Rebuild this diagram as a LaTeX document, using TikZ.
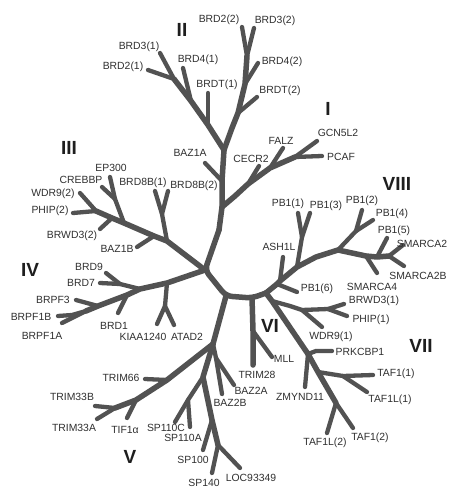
\documentclass[tikz,border=0pt]{standalone}
\usepackage{fontspec}
\setmainfont{Liberation Sans}
\definecolor{brc}{HTML}{525252}
\definecolor{labc}{HTML}{303030}
\definecolor{numc}{HTML}{1E1E1E}
\tikzset{
  br/.style={draw=brc, line width=4.3pt, line cap=round, line join=round},
  tr/.style={br, line width=5.5pt},
  lab/.style={font=\fontsize{10.4}{12}\selectfont, text=labc, inner sep=0pt},
  clade/.style={font=\bfseries\fontsize{19}{22}\selectfont, text=numc, inner sep=0pt},
}
\begin{document}
\begin{tikzpicture}[x=1pt,y=-1pt]
\useasboundingbox (0,0) rectangle (459,488);
\fill[white] (0,0) rectangle (459,488);
% ---------- coordinates ----------
% root
\coordinate (jL) at (205,270); \coordinate (jM) at (226,296);
\coordinate (jR) at (252,298); \coordinate (jR2) at (266,293);
% trunk I/II
\coordinate (t1) at (219,230); \coordinate (jI) at (222,207);
\coordinate (jA) at (222,181); \coordinate (jII) at (224,150);
% clade I
\coordinate (c1) at (235,196); \coordinate (jCE) at (248,184);
\coordinate (jFA) at (270,168); \coordinate (jGP) at (295,157);
\coordinate (eCECR2) at (259,166); \coordinate (eFALZ) at (283,148);
\coordinate (eGCN) at (317,141); \coordinate (ePCAF) at (322,156);
\coordinate (eBAZ1A) at (205,163);
% clade II
\coordinate (jB1T) at (208,125); \coordinate (jB41) at (191,101); \coordinate (jB2) at (174,79);
\coordinate (eBRD31) at (160,53); \coordinate (eBRD21) at (148,70);
\coordinate (eBRD41) at (183,68); \coordinate (eBRDT1) at (208,93);
\coordinate (r1) at (232,128); \coordinate (jBT2) at (238,113);
\coordinate (jB42) at (245,84); \coordinate (jB23) at (247,56);
\coordinate (eBRDT2) at (257,97); \coordinate (eBRD42) at (258,63);
\coordinate (eBRD22) at (242,27); \coordinate (eBRD32) at (254,28);
% clade III
\coordinate (j8B) at (167,241); \coordinate (jBZ) at (154,236);
\coordinate (jEP) at (124,223); \coordinate (jBR) at (112,218); \coordinate (jWP) at (96,211);
\coordinate (j8Bs) at (162,214); \coordinate (eBRD8B1) at (155,191); \coordinate (eBRD8B2) at (168,191);
\coordinate (eBAZ1B) at (137,247);
\coordinate (jEC) at (115,199); \coordinate (eEP300) at (110,177); \coordinate (eCREBBP) at (102,187);
\coordinate (eBRWD32) at (100,229);
\coordinate (eWDR92) at (80,193); \coordinate (ePHIP2) at (73,213);
% clade IV
\coordinate (jKA) at (167,283); \coordinate (jB79) at (140,289); \coordinate (jB1) at (127,295);
\coordinate (jP3) at (98,306); \coordinate (jP1) at (86,311);
\coordinate (jKAs) at (165,306); \coordinate (eKIAA) at (157,324); \coordinate (eATAD2) at (174,325);
\coordinate (jB79s) at (120,284); \coordinate (eBRD9) at (106,273); \coordinate (eBRD7) at (100,283);
\coordinate (eBRD1) at (118,313); \coordinate (eBRPF3) at (76,300);
\coordinate (p1b) at (72,315);
\coordinate (eBRPF1B) at (58,316); \coordinate (eBRPF1A) at (62,323);
% clade V, SP, BAZ2
\coordinate (J5) at (213,344);
\coordinate (jT66) at (167,380); \coordinate (jTIF) at (136,400); \coordinate (jT33) at (115,408);
\coordinate (eTRIM66) at (145,379); \coordinate (eTIF1a) at (127,418);
\coordinate (eTRIM33B) at (95,406); \coordinate (eTRIM33A) at (97,419);
\coordinate (jS110) at (203,377); \coordinate (jS110s) at (188,400);
\coordinate (eSP110C) at (175,422); \coordinate (eSP110A) at (190,427);
\coordinate (jS100) at (212,420); \coordinate (eSP100) at (203,450);
\coordinate (jS140) at (218,445); \coordinate (eSP140) at (212,473); \coordinate (eLOC) at (240,468);
\coordinate (jBAZ2) at (216,358); \coordinate (eBAZ2B) at (222,394); \coordinate (eBAZ2A) at (234,385);
% clade VIII
\coordinate (jP6) at (277,284); \coordinate (jAS) at (280,281); \coordinate (jP13) at (297,267);
\coordinate (v1) at (316,257); \coordinate (jP24) at (338,250); \coordinate (jSM4) at (366,256);
\coordinate (jP5) at (377,257); \coordinate (jSM2) at (389,256);
\coordinate (ePB16) at (297,292); \coordinate (eASH1L) at (283,257);
\coordinate (jP13s) at (302,237); \coordinate (ePB11) at (298,213); \coordinate (ePB13) at (310,213);
\coordinate (jP24s) at (356,231); \coordinate (ePB12) at (362,210); \coordinate (ePB14) at (373,220);
\coordinate (eSMARCA4) at (377,273); \coordinate (ePB15) at (387,238);
\coordinate (eSMARCA2) at (403,245); \coordinate (eSMARCA2B) at (404,266);
% clade VII
\coordinate (jBW) at (272,301); \coordinate (w1) at (290,306); \coordinate (jW9) at (302,310);
\coordinate (jBP) at (328,309);
\coordinate (eBRWD31) at (344,304); \coordinate (ePHIP1) at (347,316); \coordinate (eWDR91) at (322,327);
\coordinate (jPR) at (308,354); \coordinate (pr1) at (316,351); \coordinate (ePRK) at (332,351);
\coordinate (eZMY) at (305,387);
\coordinate (jTA) at (318,372); \coordinate (jTAs) at (343,376);
\coordinate (eTAF11) at (373,375); \coordinate (eTAF1L1) at (367,392);
\coordinate (jTB) at (336,403); \coordinate (eTAF1L2) at (327,433); \coordinate (eTAF12) at (353,428);
% clade VI
\coordinate (jML) at (253,331); \coordinate (eTRIM28) at (253,365); \coordinate (eMLL) at (272,357);

% ---------- branches ----------
% root
\draw[tr, rounded corners=6pt] (t1) -- (jL) -- (jM) -- (jR) -- (jR2);
\draw[tr] (jII) -- (jA) -- (jI) -- (t1);
% I
\draw[tr] (jI) -- (c1) -- (jCE) -- (jFA) -- (jGP);
\draw[br] (jGP) -- (eGCN);
\draw[br] (jGP) -- (ePCAF);
\draw[br] (jCE) -- (eCECR2);
\draw[br] (jFA) -- (eFALZ);
\draw[br] (jA) -- (eBAZ1A);
% II
\draw[tr] (jII) -- (jB1T) -- (jB41) -- (jB2);
\draw[br] (jB2) -- (eBRD31);
\draw[br] (jB2) -- (eBRD21);
\draw[br] (jB41) -- (eBRD41);
\draw[br] (jB1T) -- (eBRDT1);
\draw[tr] (jII) -- (r1) -- (jBT2) -- (jB42) -- (jB23);
\draw[br] (jB23) -- (eBRD22);
\draw[br] (jB23) -- (eBRD32);
\draw[br] (jBT2) -- (eBRDT2);
\draw[br] (jB42) -- (eBRD42);
% III
\draw[tr] (jL) -- (j8B) -- (jBZ) -- (jEP) -- (jBR) -- (jWP);
\draw[br] (j8B) -- (j8Bs) -- (eBRD8B1);
\draw[br] (j8Bs) -- (eBRD8B2);
\draw[br] (jBZ) -- (eBAZ1B);
\draw[br] (jEP) -- (jEC) -- (eEP300);
\draw[br] (jEC) -- (eCREBBP);
\draw[br] (jBR) -- (eBRWD32);
\draw[br] (jWP) -- (eWDR92);
\draw[br] (jWP) -- (ePHIP2);
% IV
\draw[tr] (jL) -- (jKA) -- (jB79) -- (jB1) -- (jP3) -- (jP1);
\draw[br] (jP1) -- (eBRPF1A);
\draw[br] (jP1) -- (p1b) -- (eBRPF1B);
\draw[br] (jP3) -- (eBRPF3);
\draw[br] (jB1) -- (eBRD1);
\draw[br] (jB79) -- (jB79s) -- (eBRD9);
\draw[br] (jB79s) -- (eBRD7);
\draw[br] (jKA) -- (jKAs) -- (eKIAA);
\draw[br] (jKAs) -- (eATAD2);
% V / SP / BAZ2
\draw[tr] (jM) -- (J5);
\draw[tr] (J5) -- (jT66) -- (jTIF) -- (jT33);
\draw[br] (jT66) -- (eTRIM66);
\draw[br] (jTIF) -- (eTIF1a);
\draw[br] (jT33) -- (eTRIM33B);
\draw[br] (jT33) -- (eTRIM33A);
\draw[tr] (J5) -- (jS110) -- (jS100) -- (jS140);
\draw[br] (jS110) -- (jS110s) -- (eSP110C);
\draw[br] (jS110s) -- (eSP110A);
\draw[br] (jS100) -- (eSP100);
\draw[br] (jS140) -- (eSP140);
\draw[br] (jS140) -- (eLOC);
\draw[br] (J5) -- (jBAZ2) -- (eBAZ2B);
\draw[br] (jBAZ2) -- (eBAZ2A);
% VIII
\draw[tr] (jR2) -- (jP6) -- (jAS) -- (jP13) -- (v1) -- (jP24) -- (jSM4) -- (jP5) -- (jSM2);
\draw[br] (jP6) -- (ePB16);
\draw[br] (jAS) -- (eASH1L);
\draw[br] (jP13) -- (jP13s) -- (ePB11);
\draw[br] (jP13s) -- (ePB13);
\draw[br] (jP24) -- (jP24s) -- (ePB12);
\draw[br] (jP24s) -- (ePB14);
\draw[br] (jSM4) -- (eSMARCA4);
\draw[br] (jP5) -- (ePB15);
\draw[br] (jSM2) -- (eSMARCA2);
\draw[br] (jSM2) -- (eSMARCA2B);
% VII
\draw[tr] (jR2) -- (jBW) -- (jPR) -- (jTA) -- (jTB);
\draw[br] (jBW) -- (w1) -- (jW9) -- (jBP);
\draw[br] (jBP) -- (eBRWD31);
\draw[br] (jBP) -- (ePHIP1);
\draw[br] (jW9) -- (eWDR91);
\draw[br] (jPR) -- (pr1) -- (ePRK);
\draw[br] (jPR) -- (eZMY);
\draw[br] (jTA) -- (jTAs) -- (eTAF11);
\draw[br] (jTAs) -- (eTAF1L1);
\draw[br] (jTB) -- (eTAF1L2);
\draw[br] (jTB) -- (eTAF12);
% VI
\draw[tr] (jR) -- (jML) -- (eTRIM28);
\draw[br] (jML) -- (eMLL);

% ---------- clade numerals ----------
\node[clade] (nI) at (328,109) {I};
\node[clade] (nII) at (182,30) {II};
\node[clade] (nIII) at (69,148) {III};
\node[clade] (nIV) at (30,270) {IV};
\node[clade] (nV) at (130,457) {V};
\node[clade] (nVI) at (270,326) {VI};
\node[clade] (nVII) at (421,346) {VII};
\node[clade] (nVIII) at (397,184) {VIII};

% ---------- labels ----------
\node[lab] (lBRD22) at (219,20) {BRD2(2)};
\node[lab] (lBRD32) at (275,21) {BRD3(2)};
\node[lab] (lBRD31) at (139,47) {BRD3(1)};
\node[lab] (lBRD41) at (198,60) {BRD4(1)};
\node[lab] (lBRD21) at (123,67) {BRD2(1)};
\node[lab] (lBRD42) at (282,62) {BRD4(2)};
\node[lab] (lBRDT1) at (217,85) {BRDT(1)};
\node[lab] (lBRDT2) at (280,91) {BRDT(2)};
\node[lab] (lGCN) at (338,133) {GCN5L2};
\node[lab] (lFALZ) at (281,141) {FALZ};
\node[lab] (lPCAF) at (341,157) {PCAF};
\node[lab] (lCECR2) at (251,159) {CECR2};
\node[lab] (lBAZ1A) at (190,153) {BAZ1A};
\node[lab] (lBRD8B2) at (194,186) {BRD8B(2)};
\node[lab] (lBRD8B1) at (143,183) {BRD8B(1)};
\node[lab] (lEP300) at (111,168) {EP300};
\node[lab] (lCREBBP) at (81,180) {CREBBP};
\node[lab] (lWDR92) at (53,194) {WDR9(2)};
\node[lab] (lPHIP2) at (50,211) {PHIP(2)};
\node[lab] (lBRWD32) at (72,236) {BRWD3(2)};
\node[lab] (lBAZ1B) at (117,249) {BAZ1B};
\node[lab] (lBRD9) at (89,267) {BRD9};
\node[lab] (lBRD7) at (81,283) {BRD7};
\node[lab] (lBRPF3) at (53,300) {BRPF3};
\node[lab] (lBRPF1B) at (31,317) {BRPF1B};
\node[lab] (lBRPF1A) at (42,336) {BRPF1A};
\node[lab] (lBRD1) at (114,326) {BRD1};
\node[lab] (lKIAA) at (143,337) {KIAA1240};
\node[lab] (lATAD2) at (187,337) {ATAD2};
\node[lab] (lTRIM66) at (121,378) {TRIM66};
\node[lab] (lTRIM33B) at (72,397) {TRIM33B};
\node[lab] (lTRIM33A) at (74,428) {TRIM33A};
\node[lab] (lTIF1a) at (125,430) {TIF1α};
\node[lab] (lSP110C) at (166,428) {SP110C};
\node[lab] (lSP110A) at (183,438) {SP110A};
\node[lab] (lSP100) at (193,460) {SP100};
\node[lab] (lSP140) at (204,483) {SP140};
\node[lab] (lLOC) at (251,478) {LOC93349};
\node[lab] (lBAZ2B) at (230,403) {BAZ2B};
\node[lab] (lBAZ2A) at (251,391) {BAZ2A};
\node[lab] (lTRIM28) at (257,375) {TRIM28};
\node[lab] (lMLL) at (284,359) {MLL};
\node[lab] (lZMY) at (300,397) {ZMYND11};
\node[lab] (lPRK) at (360,352) {PRKCBP1};
\node[lab] (lTAF11) at (396,374) {TAF1(1)};
\node[lab] (lTAF1L1) at (390,400) {TAF1L(1)};
\node[lab] (lTAF1L2) at (325,443) {TAF1L(2)};
\node[lab] (lTAF12) at (370,438) {TAF1(2)};
\node[lab] (lWDR91) at (331,337) {WDR9(1)};
\node[lab] (lPHIP1) at (371,320) {PHIP(1)};
\node[lab] (lBRWD31) at (374,301) {BRWD3(1)};
\node[lab] (lSMARCA4) at (372,287) {SMARCA4};
\node[lab] (lPB16) at (317,289) {PB1(6)};
\node[lab] (lASH1L) at (279,247) {ASH1L};
\node[lab] (lPB11) at (288,204) {PB1(1)};
\node[lab] (lPB13) at (326,206) {PB1(3)};
\node[lab] (lPB12) at (362,201) {PB1(2)};
\node[lab] (lPB14) at (392,214) {PB1(4)};
\node[lab] (lPB15) at (394,231) {PB1(5)};
\node[lab] (lSMARCA2) at (422,244) {SMARCA2};
\node[lab] (lSMARCA2B) at (418,276) {SMARCA2B};
\end{tikzpicture}
\end{document}
